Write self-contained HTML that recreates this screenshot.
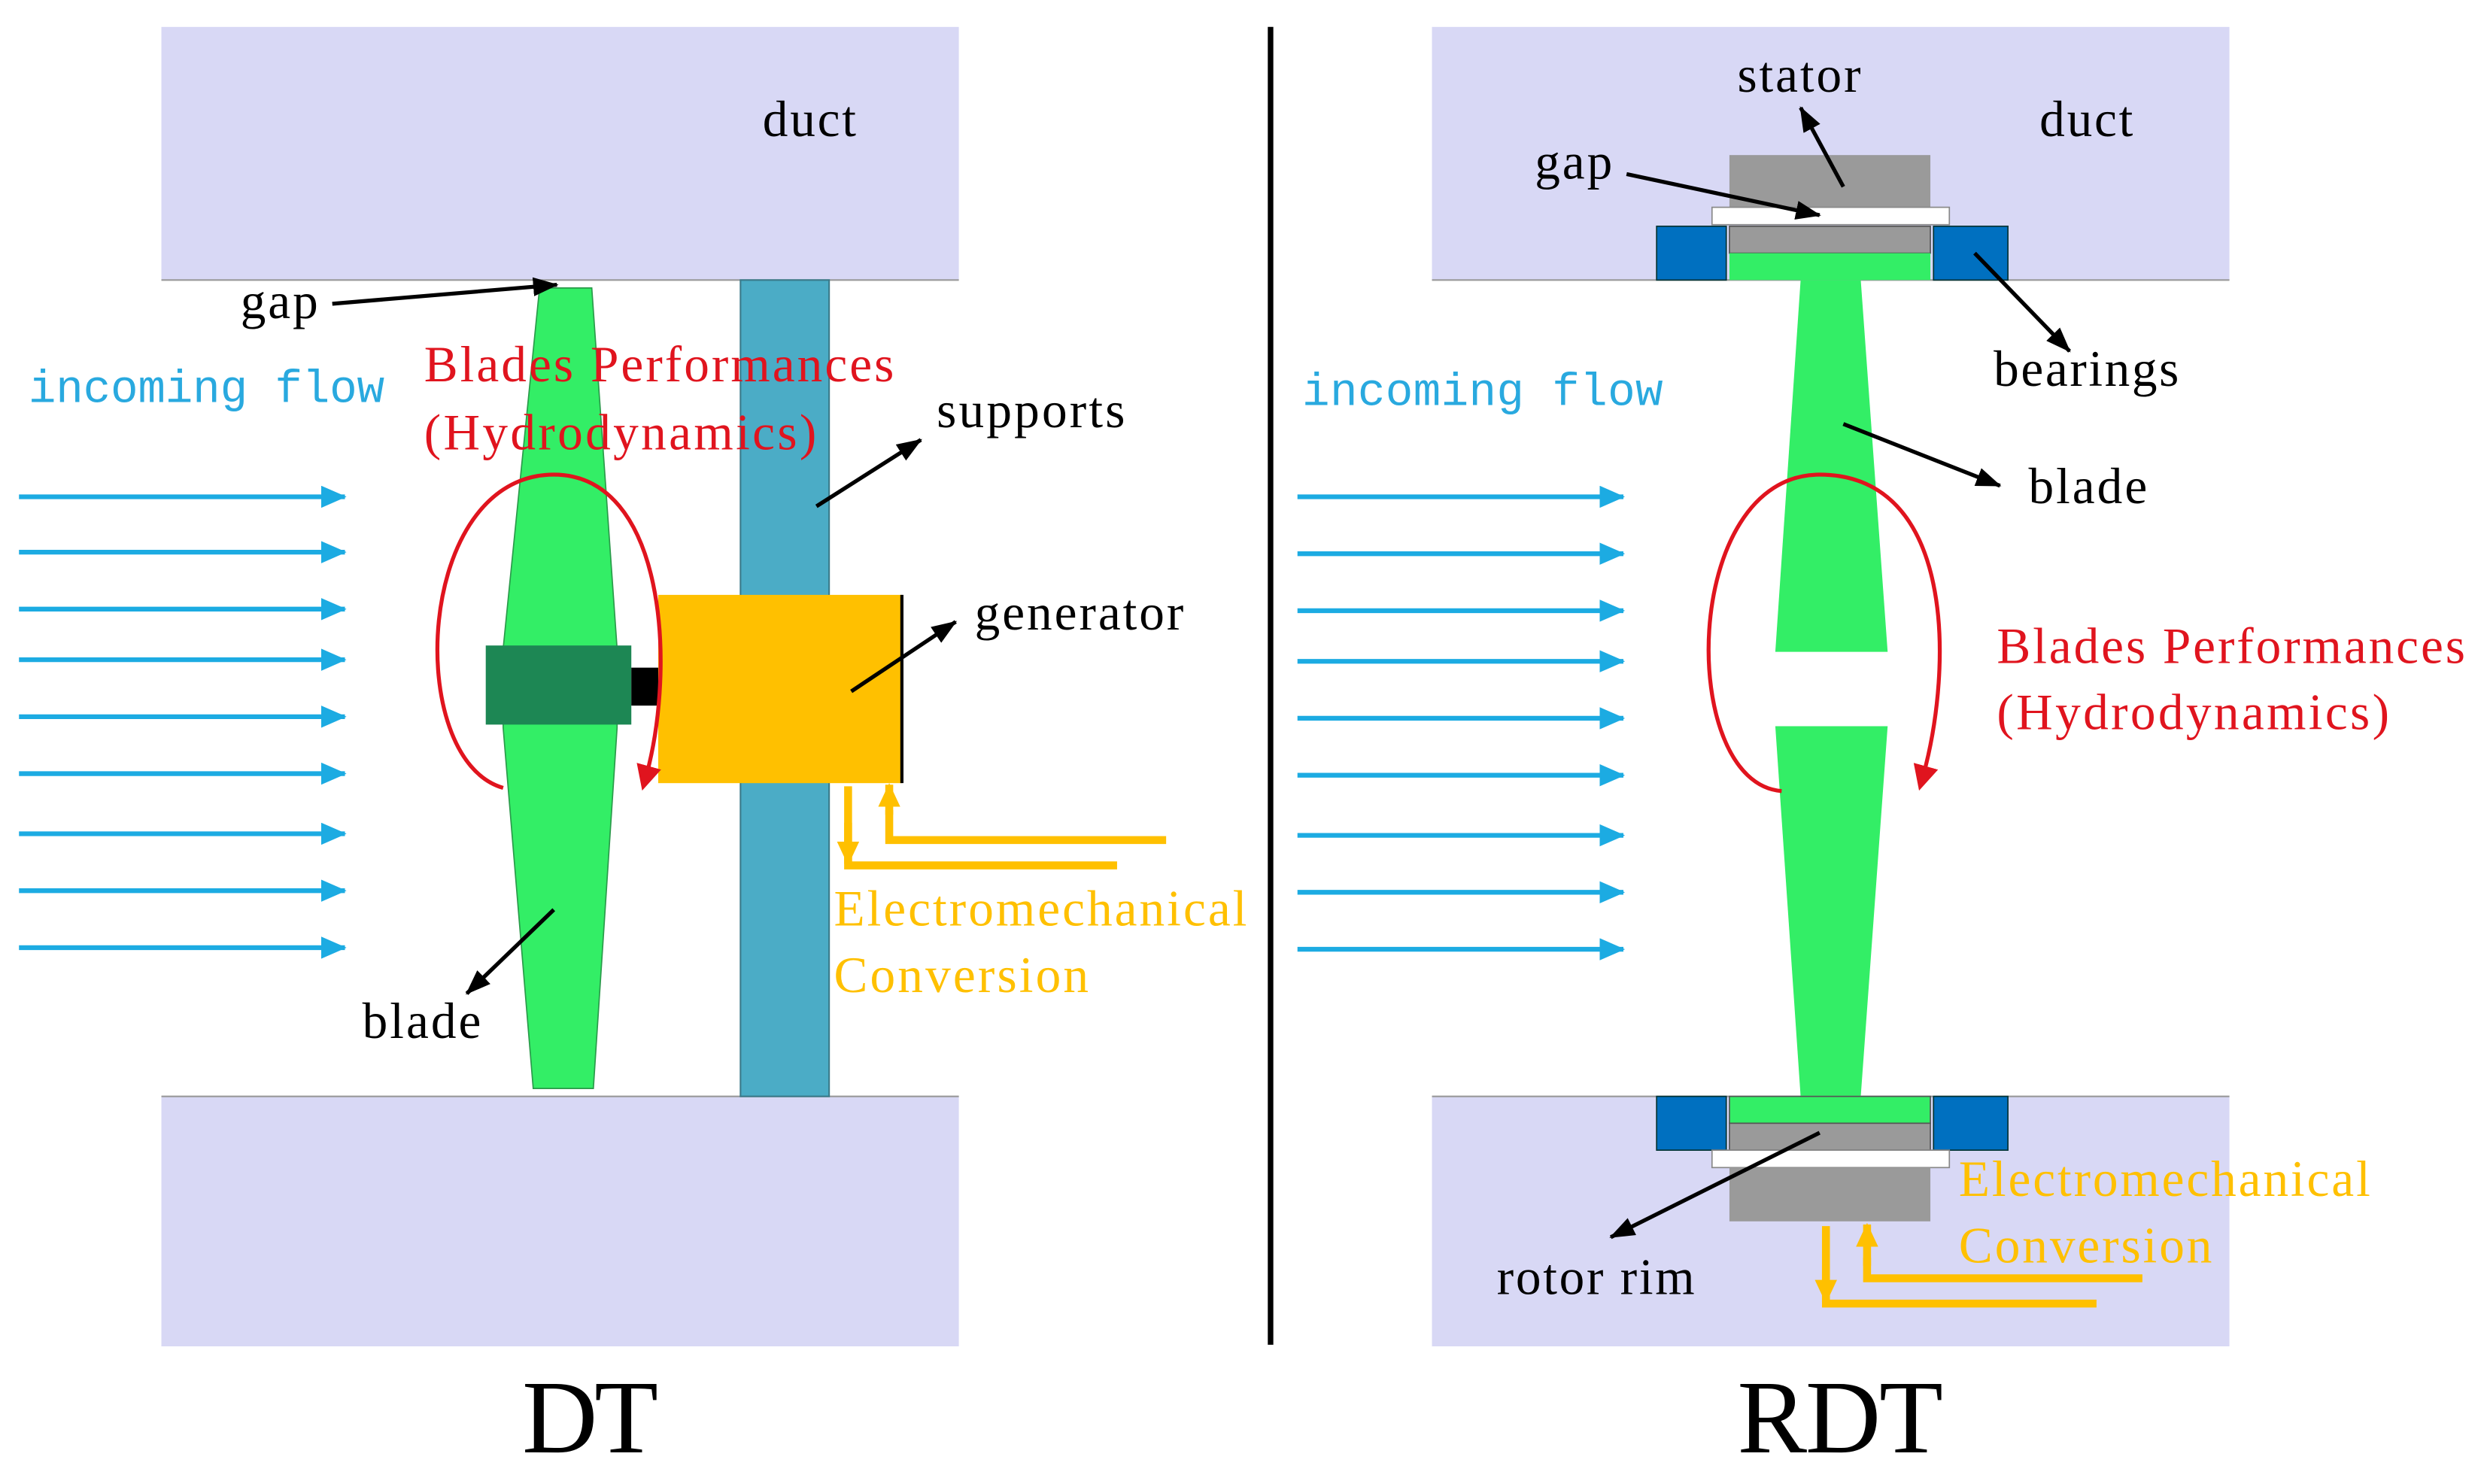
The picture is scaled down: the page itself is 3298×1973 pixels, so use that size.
<!DOCTYPE html>
<html><head><meta charset="utf-8"><style>
html,body{margin:0;padding:0;background:#fff;}
svg{display:block;}
text{font-family:"Liberation Serif",serif;}
.m{font-family:"Liberation Mono",monospace;fill:#29a9df;font-size:29px;}
.k{fill:#000;font-size:32px;}
.r{fill:#e0141e;font-size:32px;}
.y{fill:#ffc000;font-size:32px;}
</style></head><body>
<svg width="3298" height="1973" viewBox="0 0 1568 938" xmlns="http://www.w3.org/2000/svg">
<defs>
<marker id="ak" markerWidth="16" markerHeight="12" refX="15" refY="6" orient="auto" markerUnits="userSpaceOnUse"><path d="M0,0 L16,6 L0,12z" fill="#000"/></marker>
<marker id="ab" markerWidth="16" markerHeight="14" refX="15" refY="7" orient="auto" markerUnits="userSpaceOnUse"><path d="M0,0 L16,7 L0,14z" fill="#1cabe2"/></marker>
<marker id="ar" markerWidth="16" markerHeight="16" refX="8" refY="8" orient="auto" markerUnits="userSpaceOnUse"><path d="M0,0 L16,8 L0,16z" fill="#e0141e"/></marker>
<marker id="ay" markerWidth="16" markerHeight="14" refX="14" refY="7" orient="auto" markerUnits="userSpaceOnUse"><path d="M0,0 L15,7 L0,14z" fill="#ffc000"/></marker>
</defs>
<rect width="1568" height="938" fill="#fff"/>
<!-- LEFT -->
<rect x="102" y="17" width="504" height="160" fill="#d8d8f5"/>
<rect x="102" y="693" width="504" height="158" fill="#d8d8f5"/>
<line x1="102" y1="177" x2="606" y2="177" stroke="#999" stroke-width="1"/>
<line x1="102" y1="693" x2="606" y2="693" stroke="#999" stroke-width="1"/>
<rect x="468" y="177" width="56" height="516" fill="#4bacc6" stroke="#3a7a8a" stroke-width="1"/>
<polygon points="341,182 374,182 390,410 390,460 375,688 337,688 318,460 318,410" fill="#33ee66" stroke="#2a9a4a" stroke-width="0.8"/>
<rect x="307" y="408" width="92" height="50" fill="#1d8754"/>
<rect x="399" y="422" width="17" height="24" fill="#000"/>
<rect x="416" y="376" width="154" height="119" fill="#ffc000"/>
<line x1="570" y1="376" x2="570" y2="495" stroke="#000" stroke-width="2"/>
<path d="M318,498 C255,480 262,300 350,300 C420,300 428,420 408,492" fill="none" stroke="#e0141e" stroke-width="2.5" marker-end="url(#ar)"/>
<g stroke="#1cabe2" stroke-width="3" marker-end="url(#ab)">
<line x1="12" y1="314" x2="218" y2="314"/><line x1="12" y1="349" x2="218" y2="349"/><line x1="12" y1="385" x2="218" y2="385"/><line x1="12" y1="417" x2="218" y2="417"/><line x1="12" y1="453" x2="218" y2="453"/><line x1="12" y1="489" x2="218" y2="489"/><line x1="12" y1="527" x2="218" y2="527"/><line x1="12" y1="563" x2="218" y2="563"/><line x1="12" y1="599" x2="218" y2="599"/>
</g>
<g stroke="#000" stroke-width="2.5" marker-end="url(#ak)" fill="none">
<line x1="210" y1="192" x2="352" y2="180"/>
<line x1="516" y1="320" x2="582" y2="278"/>
<line x1="538" y1="437" x2="604" y2="393"/>
<line x1="350" y1="575" x2="295" y2="628"/>
</g>
<g stroke="#ffc000" stroke-width="5" fill="none">
<polyline points="706,547 536,547 536,497" /><line x1="536" y1="520" x2="536" y2="546" marker-end="url(#ay)"/>
<polyline points="737,531 562,531 562,512"/><line x1="562" y1="515" x2="562" y2="496" marker-end="url(#ay)"/>
</g>
<text x="482" y="86" class="k" textLength="59">duct</text>
<text x="152" y="201" class="k" textLength="49">gap</text>
<text x="18" y="254" class="m" textLength="225">incoming flow</text>
<text x="268" y="241" class="r" textLength="297">Blades Performances</text>
<text x="268" y="284" class="r" textLength="248">(Hydrodynamics)</text>
<text x="592" y="270" class="k" textLength="119">supports</text>
<text x="616" y="398" class="k" textLength="132">generator</text>
<text x="527" y="585" class="y" textLength="261">Electromechanical</text>
<text x="527" y="627" class="y" textLength="161">Conversion</text>
<text x="229" y="656" class="k" textLength="75">blade</text>
<text x="330" y="918" style="font-size:66px;fill:#000" textLength="86">DT</text>
<line x1="803" y1="17" x2="803" y2="850" stroke="#000" stroke-width="3.5"/>
<!-- RIGHT -->
<rect x="905" y="17" width="504" height="160" fill="#d8d8f5"/>
<rect x="905" y="693" width="504" height="158" fill="#d8d8f5"/>
<line x1="905" y1="177" x2="1409" y2="177" stroke="#999" stroke-width="1"/>
<line x1="905" y1="693" x2="1409" y2="693" stroke="#999" stroke-width="1"/>
<rect x="1093" y="98" width="127" height="33" fill="#9a9a9a"/>
<rect x="1082" y="131" width="150" height="11" fill="#fff" stroke="#888" stroke-width="0.8"/>
<rect x="1093" y="143" width="127" height="17" fill="#9a9a9a" stroke="#555" stroke-width="0.8"/>
<rect x="1093" y="160" width="127" height="17" fill="#33ee66"/>
<rect x="1047" y="143" width="44" height="34" fill="#0070c0" stroke="#033" stroke-width="0.8"/>
<rect x="1222" y="143" width="47" height="34" fill="#0070c0" stroke="#033" stroke-width="0.8"/>
<polygon points="1138,177 1176,177 1193,412 1122,412" fill="#33ee66"/>
<polygon points="1122,459 1193,459 1176,693 1138,693" fill="#33ee66"/>
<rect x="1093" y="693" width="127" height="17" fill="#33ee66" stroke="#555" stroke-width="0.8"/>
<rect x="1093" y="710" width="127" height="17" fill="#9a9a9a" stroke="#555" stroke-width="0.8"/>
<rect x="1047" y="693" width="44" height="34" fill="#0070c0" stroke="#033" stroke-width="0.8"/>
<rect x="1222" y="693" width="47" height="34" fill="#0070c0" stroke="#033" stroke-width="0.8"/>
<rect x="1082" y="727" width="150" height="11" fill="#fff" stroke="#888" stroke-width="0.8"/>
<rect x="1093" y="738" width="127" height="34" fill="#9a9a9a"/>
<path d="M1126,500 C1060,495 1062,300 1150,300 C1235,300 1235,420 1215,492" fill="none" stroke="#e0141e" stroke-width="2.5" marker-end="url(#ar)"/>
<g stroke="#1cabe2" stroke-width="3" marker-end="url(#ab)">
<line x1="820" y1="314" x2="1026" y2="314"/><line x1="820" y1="350" x2="1026" y2="350"/><line x1="820" y1="386" x2="1026" y2="386"/><line x1="820" y1="418" x2="1026" y2="418"/><line x1="820" y1="454" x2="1026" y2="454"/><line x1="820" y1="490" x2="1026" y2="490"/><line x1="820" y1="528" x2="1026" y2="528"/><line x1="820" y1="564" x2="1026" y2="564"/><line x1="820" y1="600" x2="1026" y2="600"/>
</g>
<g stroke="#000" stroke-width="2.5" marker-end="url(#ak)" fill="none">
<line x1="1165" y1="118" x2="1138" y2="68"/>
<line x1="1028" y1="110" x2="1150" y2="136"/>
<line x1="1248" y1="160" x2="1308" y2="222"/>
<line x1="1165" y1="268" x2="1264" y2="307"/>
<line x1="1150" y1="716" x2="1018" y2="782"/>
</g>
<g stroke="#ffc000" stroke-width="5" fill="none">
<polyline points="1325,824 1154,824 1154,800"/><line x1="1154" y1="775" x2="1154" y2="823" marker-end="url(#ay)"/>
<polyline points="1354,808 1180,808 1180,795"/><line x1="1180" y1="800" x2="1180" y2="774" marker-end="url(#ay)"/>
</g>
<text x="1098" y="58" class="k" textLength="78">stator</text>
<text x="1289" y="86" class="k" textLength="59">duct</text>
<text x="970" y="113" class="k" textLength="49">gap</text>
<text x="1260" y="244" class="k" textLength="117">bearings</text>
<text x="823" y="256" class="m" textLength="228">incoming flow</text>
<text x="1282" y="318" class="k" textLength="75">blade</text>
<text x="1262" y="419" class="r" textLength="296">Blades Performances</text>
<text x="1262" y="461" class="r" textLength="248">(Hydrodynamics)</text>
<text x="946" y="818" class="k" textLength="125">rotor rim</text>
<text x="1238" y="756" class="y" textLength="260">Electromechanical</text>
<text x="1238" y="798" class="y" textLength="160">Conversion</text>
<text x="1098" y="918" style="font-size:66px;fill:#000" textLength="130">RDT</text>
</svg>
</body></html>
